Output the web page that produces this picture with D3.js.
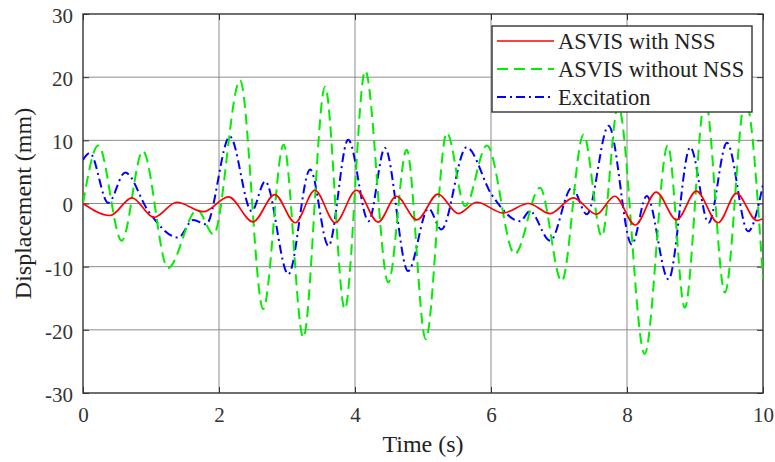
<!DOCTYPE html>
<html>
<head>
<meta charset="utf-8">
<script src="https://cdn.jsdelivr.net/npm/d3@7"></script>
<style>
	body { margin: 0; background: #fff; }
	svg { display: block; font-family: "Liberation Serif", "Times New Roman", serif; }
</style>
</head>
<body>
<div id="chart"></div>
<script>
//values (peaks / troughs of each trace)
var seriesNames = ["ASVIS with NSS", "ASVIS without NSS", "Excitation"];

var withNssT = [0, 0.40, 0.72, 1.04, 1.38, 1.77, 2.14, 2.50, 2.82, 3.12, 3.41, 3.71, 4.02, 4.34, 4.61, 4.91, 5.22, 5.52, 5.79, 6.18, 6.55, 6.87, 7.21, 7.55, 7.82, 8.12, 8.43, 8.73, 9.02, 9.34, 9.61, 9.91, 10];
var withNssV = [0, -1.9, 0.9, -2.2, 0.2, -1.3, 1.05, -2.9, 1.4, -3.05, 2.1, -3.05, 2.1, -2.95, 1.15, -2.6, 1.5, -1.6, 0.2, -1.5, 0, -1.6, 0.9, -1.7, 1.15, -3.4, 1.8, -2.6, 1.95, -3.05, 1.6, -2.7, -2.4];

var withoutNssT = [0, 0.225, 0.57, 0.88, 1.25, 1.68, 1.92, 2.31, 2.65, 2.95, 3.24, 3.56, 3.85, 4.15, 4.49, 4.76, 5.04, 5.35, 5.62, 5.94, 6.35, 6.72, 7.04, 7.36, 7.63, 7.87, 8.26, 8.60, 8.85, 9.15, 9.44, 9.74, 10];
var withoutNssV = [0, 9.2, -5.9, 8.3, -10.2, -1.0, -4.9, 19.5, -16.7, 9.3, -21.2, 18.5, -16.7, 21.0, -12.5, 8.5, -21.5, 11.2, -0.4, 9.2, -8.0, 2.5, -12.3, 10.9, -5.2, 15.5, -23.8, 9.2, -16.5, 16.5, -14.1, 16.5, -12];

var excitationT = [0, 0.10, 0.37, 0.62, 0.96, 1.40, 1.62, 1.81, 2.16, 2.48, 2.68, 3.02, 3.34, 3.61, 3.90, 4.20, 4.44, 4.78, 5.08, 5.27, 5.64, 6.01, 6.43, 6.57, 6.87, 7.19, 7.41, 7.73, 8.07, 8.29, 8.61, 8.93, 9.20, 9.47, 9.78, 10];
var excitationV = [6.9, 8.0, 0.1, 4.9, -1.2, -5.4, -2.6, -3.3, 10.6, -1.2, 3.5, -11.2, 5.4, -6.7, 10.1, -2.8, 8.8, -10.7, -0.8, -4.1, 8.9, 1.4, -2.8, -1.2, -5.9, 2.5, -1.7, 12.3, -6.5, 1.2, -12.0, 8.9, -3.05, 9.6, -4.4, 3.0];

var xTicks = [0, 2, 4, 6, 8, 10];
var yTicks = [-30, -20, -10, 0, 10, 20, 30];

var config = {
	w: 775,
	h: 462,
	margin: {top: 14, right: 12, bottom: 69, left: 83},
	colors: ["#ff0000", "#00ee00", "#0000ff"],
	dashes: [null, "11,6", "9,4,2,4"],
	widths: [1.7, 2, 2]
};

var innerW = config.w - config.margin.left - config.margin.right,
	innerH = config.h - config.margin.top - config.margin.bottom;

var x = d3.scaleLinear().domain([0, 10]).range([0, innerW]);
var y = d3.scaleLinear().domain([-30, 30]).range([innerH, 0]);

var svg = d3.select("#chart").append("svg")
	.attr("width", config.w)
	.attr("height", config.h);

var g = svg.append("g")
	.attr("transform", "translate(" + config.margin.left + "," + config.margin.top + ")");

g.append("defs").append("clipPath").attr("id", "plotClip")
	.append("rect").attr("width", innerW).attr("height", innerH);

/////////////////////////////////////////////////////////
////////////////////// Grid lines ///////////////////////
/////////////////////////////////////////////////////////

g.append("g").selectAll("line")
	.data(xTicks.slice(1, -1))
	.join("line")
	.attr("x1", function(d){ return x(d); })
	.attr("x2", function(d){ return x(d); })
	.attr("y1", 0)
	.attr("y2", innerH)
	.style("stroke", "#8c8c8c")
	.style("stroke-width", 1);

g.append("g").selectAll("line")
	.data(yTicks.slice(1, -1))
	.join("line")
	.attr("x1", 0)
	.attr("x2", innerW)
	.attr("y1", function(d){ return y(d); })
	.attr("y2", function(d){ return y(d); })
	.style("stroke", "#8c8c8c")
	.style("stroke-width", 1);

/////////////////////////////////////////////////////////
//////////////////////// Axes ///////////////////////////
/////////////////////////////////////////////////////////

function styleAxis(sel) {
	sel.select(".domain").remove();
	sel.selectAll(".tick line").style("stroke", "#333").style("stroke-width", 1);
	sel.selectAll(".tick text")
		.style("font-family", "'Liberation Serif', 'Times New Roman', serif")
		.style("font-size", "21px")
		.style("fill", "#333");
}

//plain hyphen for negatives, like the original
var tickFmt = function(d){ return String(d); };

g.append("g")
	.attr("transform", "translate(0," + innerH + ")")
	.call(d3.axisBottom(x).tickValues(xTicks).tickSize(-6).tickPadding(14).tickFormat(tickFmt))
	.call(styleAxis);

g.append("g")
	.call(d3.axisTop(x).tickValues(xTicks).tickSize(-6).tickFormat(""))
	.call(styleAxis);

g.append("g")
	.call(d3.axisLeft(y).tickValues(yTicks).tickSize(-6).tickPadding(10).tickFormat(tickFmt))
	.call(styleAxis)
	.selectAll(".tick text").attr("dy", "0.4em");

g.append("g")
	.attr("transform", "translate(" + innerW + ",0)")
	.call(d3.axisRight(y).tickValues(yTicks).tickSize(-6).tickFormat(""))
	.call(styleAxis);

//the box around the plot
g.append("rect")
	.attr("width", innerW)
	.attr("height", innerH)
	.style("fill", "none")
	.style("stroke", "#333")
	.style("stroke-width", 1.4);

/////////////////////////////////////////////////////////
/////////////////////// Traces //////////////////////////
/////////////////////////////////////////////////////////

var traces = [
	d3.zip(withNssT, withNssV),
	d3.zip(withoutNssT, withoutNssV),
	d3.zip(excitationT, excitationV)
];

var line = d3.line()
	.curve(d3.curveMonotoneX)
	.x(function(d){ return x(d[0]); })
	.y(function(d){ return y(d[1]); });

//draw excitation first, then green, then red on top
var order = [2, 1, 0];
g.append("g").attr("clip-path", "url(#plotClip)")
	.selectAll("path")
	.data(order)
	.join("path")
	.attr("d", function(i){ return line(traces[i]); })
	.style("fill", "none")
	.style("stroke", function(i){ return config.colors[i]; })
	.style("stroke-width", function(i){ return config.widths[i]; })
	.style("stroke-dasharray", function(i){ return config.dashes[i]; })
	.style("stroke-linejoin", "round");

/////////////////////////////////////////////////////////
/////////////////////// Legend //////////////////////////
/////////////////////////////////////////////////////////

var legend = svg.append("g").attr("transform", "translate(492,26)");

legend.append("rect")
	.attr("width", 260)
	.attr("height", 86)
	.style("fill", "#fff")
	.style("stroke", "#333")
	.style("stroke-width", 1.4);

var item = legend.selectAll(".item")
	.data(seriesNames)
	.join("g")
	.attr("class", "item")
	.attr("transform", function(d, i){ return "translate(0," + (15 + i * 28) + ")"; });

item.append("line")
	.attr("x1", 5)
	.attr("x2", 62)
	.style("stroke", function(d, i){ return config.colors[i]; })
	.style("stroke-width", function(d, i){ return config.widths[i]; })
	.style("stroke-dasharray", function(d, i){ return config.dashes[i]; });

item.append("text")
	.attr("x", 66)
	.attr("dy", "0.36em")
	.style("font-size", "22.5px")
	.style("fill", "#222")
	.text(function(d){ return d; });

/////////////////////////////////////////////////////////
//////////////////// Axis titles ////////////////////////
/////////////////////////////////////////////////////////

svg.append("text")
	.attr("x", config.margin.left + innerW / 2)
	.attr("y", 452)
	.attr("text-anchor", "middle")
	.style("font-size", "24px")
	.style("fill", "#222")
	.text("Time (s)");

svg.append("text")
	.attr("transform", "translate(31," + (config.margin.top + innerH / 2) + ") rotate(-90)")
	.attr("text-anchor", "middle")
	.style("font-size", "24px")
	.style("fill", "#222")
	.text("Displacement (mm)");
</script>
</body>
</html>
